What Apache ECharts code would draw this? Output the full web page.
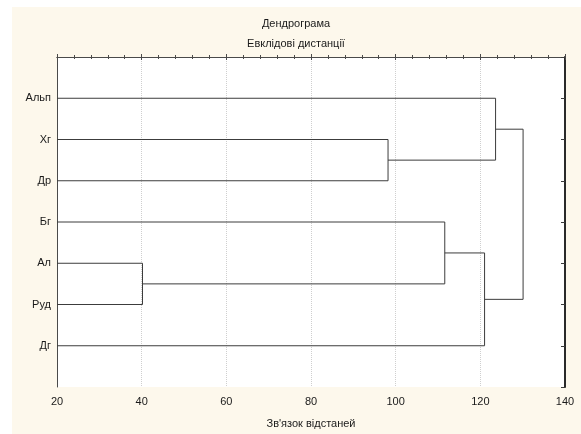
<!DOCTYPE html>
<html>
<head>
<meta charset="utf-8">
<script src="https://cdn.jsdelivr.net/npm/echarts@6/dist/echarts.min.js"></script>
<style>
html,body{margin:0;padding:0;background:#fff;}
#chart{width:581px;height:434px;}
</style>
</head>
<body>
<div id="chart"></div>
<script>
// Leaves, top to bottom
var leaves = ['Альп', 'Хг', 'Др', 'Бг', 'Ал', 'Руд', 'Дг'];
// Merges: node ids 0..6 are leaves, 7+i is the cluster formed by merge i
var mergeLeft = [4, 1, 3, 9, 0, 11];
var mergeRight = [5, 2, 7, 6, 8, 10];
var mergeHeight = [40.2, 98.2, 111.6, 121.0, 123.6, 130.1];
var xTicks = [20, 40, 60, 80, 100, 120, 140];

var axisMin = xTicks[0];
var nodeX = [], nodeY = [];
leaves.forEach(function (n, i) { nodeX.push(axisMin); nodeY.push(i + 1); });
var series = [];
for (var i = 0; i < mergeHeight.length; i++) {
  var a = mergeLeft[i], b = mergeRight[i], h = mergeHeight[i];
  series.push({
    type: 'line', symbol: 'none', silent: true, animation: false,
    lineStyle: { color: '#3c3c3c', width: 1 },
    data: [[nodeX[a], nodeY[a]], [h, nodeY[a]], [h, nodeY[b]], [nodeX[b], nodeY[b]]]
  });
  nodeX.push(h);
  nodeY.push((nodeY[a] + nodeY[b]) / 2);
}

var font = 'Liberation Sans, Arial, sans-serif';
var tickColor = '#4a4a4a';
var chart = echarts.init(document.getElementById('chart'), null, { renderer: 'canvas' });
chart.setOption({
  animation: false,
  backgroundColor: 'transparent',
  graphic: [{
    type: 'rect', left: 12, top: 7, z: -10,
    shape: { width: 569, height: 427 },
    style: { fill: '#fdf8ec' }
  }, {
    type: 'rect', left: 57, top: 57, z: -9,
    shape: { width: 508, height: 330 },
    style: { fill: '#ffffff' }
  }],
  title: [{
    text: 'Дендрограма',
    left: 291, top: 13, textAlign: 'center',
    textStyle: { fontFamily: font, fontSize: 11, fontWeight: 'normal', color: '#1a1a1a' }
  }, {
    text: 'Евклідові дистанції',
    left: 291, top: 33, textAlign: 'center',
    textStyle: { fontFamily: font, fontSize: 11, fontWeight: 'normal', color: '#1a1a1a' }
  }],
  grid: {
    left: 57, top: 57, width: 508, height: 330,
    show: false
  },
  xAxis: [{
    type: 'value', position: 'bottom', min: axisMin, max: xTicks[xTicks.length - 1], interval: 20,
    name: 'Зв\'язок відстаней', nameLocation: 'middle', nameGap: 31,
    nameTextStyle: { fontFamily: font, fontSize: 11, color: '#1a1a1a' },
    axisLine: { show: true, lineStyle: { color: tickColor } },
    axisTick: { show: true, inside: true, length: 3, lineStyle: { color: tickColor } },
    minorTick: { show: true, splitNumber: 5, length: 2, lineStyle: { color: tickColor } },
    axisLabel: { fontFamily: font, fontSize: 11, color: '#1a1a1a', margin: 9 },
    splitLine: { show: true, lineStyle: { color: '#cfcfcf', type: 'dotted' } }
  }, {
    type: 'value', position: 'top', min: axisMin, max: xTicks[xTicks.length - 1], interval: 20,
    axisLine: { show: true, lineStyle: { color: tickColor } },
    axisTick: { show: true, inside: true, length: 3, lineStyle: { color: tickColor } },
    minorTick: { show: true, splitNumber: 5, length: 2, lineStyle: { color: tickColor } },
    axisLabel: { show: false },
    splitLine: { show: false }
  }],
  yAxis: [{
    type: 'value', position: 'left', inverse: true, min: 0, max: leaves.length + 1, interval: 1,
    axisLine: { show: true, lineStyle: { color: tickColor } },
    axisTick: { show: false },
    splitLine: { show: false },
    axisLabel: {
      fontFamily: font, fontSize: 11, color: '#1a1a1a', margin: 6,
      formatter: function (v) { return leaves[v - 1] || ''; }
    }
  }, {
    type: 'value', position: 'right', inverse: true, min: 0, max: leaves.length + 1, interval: 1,
    axisLine: { show: true, lineStyle: { color: '#2a2a2a', width: 2 } },
    axisTick: { show: true, inside: true, length: 4, lineStyle: { color: '#3a3a3a' } },
    splitLine: { show: false },
    axisLabel: { show: false }
  }],
  series: series
});
</script>
</body>
</html>
